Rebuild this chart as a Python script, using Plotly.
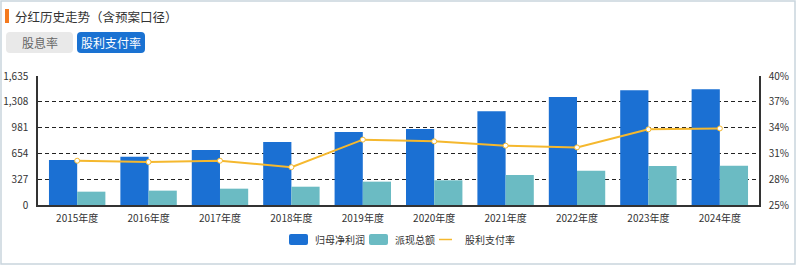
import plotly.graph_objects as go

years = ["2015年度", "2016年度", "2017年度", "2018年度", "2019年度",
         "2020年度", "2021年度", "2022年度", "2023年度", "2024年度"]
net_profit = [570, 612, 697, 798, 925, 963, 1187, 1369, 1453, 1466]
dividend_total = [169, 182, 207, 232, 296, 313, 380, 435, 494, 498]
payout_ratio = [30.15, 30.0, 30.15, 29.4, 32.6, 32.4, 31.9, 31.7, 33.8, 33.9]
left_ticks = [0, 327, 654, 981, 1308, 1635]
left_labels = ["0", "327", "654", "981", "1,308", "1,635"]
right_ticks = [25, 28, 31, 34, 37, 40]
right_labels = ["25%", "28%", "31%", "34%", "37%", "40%"]

W, H = 800, 268
L, R, T, B = 38, 759, 76, 205

def X(px):
    return (px - L) / (R - L)

def Y(py):
    return (B - py) / (B - T)

def rrect(x0, y0, x1, y1, r):
    pts = [
        ("M", [(x0 + r, y0)]),
        ("L", [(x1 - r, y0)]),
        ("Q", [(x1, y0), (x1, y0 + r)]),
        ("L", [(x1, y1 - r)]),
        ("Q", [(x1, y1), (x1 - r, y1)]),
        ("L", [(x0 + r, y1)]),
        ("Q", [(x0, y1), (x0, y1 - r)]),
        ("L", [(x0, y0 + r)]),
        ("Q", [(x0, y0), (x0 + r, y0)]),
    ]
    s = ""
    for cmd, ps in pts:
        s += cmd + " " + " ".join(f"{X(a):.5f},{Y(b):.5f}" for a, b in ps) + " "
    return s + "Z"

BLUE = "#1b70d3"
TEAL = "#6bbbc3"
YEL = "#f5b82e"
FONT = "Noto Sans CJK SC"
TXT = "#333333"

fig = go.Figure()
fig.add_trace(go.Bar(x=years, y=net_profit, name="归母净利润",
                     marker=dict(color=BLUE, line=dict(width=0)), offsetgroup="a"))
fig.add_trace(go.Bar(x=years, y=dividend_total, name="派现总额",
                     marker=dict(color=TEAL, line=dict(width=0)), offsetgroup="b"))
fig.add_trace(go.Scatter(x=years, y=payout_ratio, name="股利支付率", yaxis="y2",
                         mode="lines+markers",
                         line=dict(color=YEL, width=2),
                         marker=dict(size=5, color="white", line=dict(color=YEL, width=1))))

shapes = []
# frame
shapes.append(dict(type="rect", xref="paper", yref="paper",
                   x0=X(1), x1=X(795), y0=Y(264), y1=Y(1),
                   line=dict(color="#c9d5dd", width=1.5), fillcolor="rgba(0,0,0,0)", layer="below"))
# title marker
shapes.append(dict(type="rect", xref="paper", yref="paper",
                   x0=X(5), x1=X(9), y0=Y(23), y1=Y(9),
                   line=dict(width=0), fillcolor="#f47a1f"))
# buttons
shapes.append(dict(type="path", xref="paper", yref="paper", path=rrect(6, 32, 73, 53, 4),
                   line=dict(width=0), fillcolor="#e9e9e9"))
shapes.append(dict(type="path", xref="paper", yref="paper", path=rrect(77, 32, 145, 53, 4),
                   line=dict(width=0), fillcolor="#1a72d2"))
# legend symbols
shapes.append(dict(type="path", xref="paper", yref="paper", path=rrect(289, 234, 308, 245, 2),
                   line=dict(width=0), fillcolor=BLUE))
shapes.append(dict(type="path", xref="paper", yref="paper", path=rrect(369, 234, 388, 245, 2),
                   line=dict(width=0), fillcolor=TEAL))
shapes.append(dict(type="line", xref="paper", yref="paper", x0=X(439), x1=X(452), y0=Y(239.5), y1=Y(239.5),
                   line=dict(color=YEL, width=1.5)))

ann = []
ann.append(dict(text="分红历史走势（含预案口径）", xref="paper", yref="paper", x=X(13), y=Y(16.5),
                xanchor="left", yanchor="middle", showarrow=False,
                font=dict(family=FONT, size=12.5, color=TXT)))
ann.append(dict(text="股息率", xref="paper", yref="paper", x=X(39.5), y=Y(42.5),
                xanchor="center", yanchor="middle", showarrow=False,
                font=dict(family=FONT, size=12, color="#666666")))
ann.append(dict(text="股利支付率", xref="paper", yref="paper", x=X(111), y=Y(42.5),
                xanchor="center", yanchor="middle", showarrow=False,
                font=dict(family=FONT, size=12, color="#ffffff")))
for tx, label in [(313, "归母净利润"), (393, "派现总额"), (463, "股利支付率")]:
    ann.append(dict(text=label, xref="paper", yref="paper", x=X(tx), y=Y(239.5),
                    xanchor="left", yanchor="middle", showarrow=False,
                    font=dict(family=FONT, size=10, color=TXT)))

fig.update_layout(
    width=W, height=H,
    margin=dict(l=L, r=W - R, t=T, b=H - B, pad=0, autoexpand=False),
    paper_bgcolor="white", plot_bgcolor="white",
    showlegend=False,
    barmode="group", bargap=0.21, bargroupgap=0,
    font=dict(family=FONT, size=10, color=TXT),
    xaxis=dict(showline=True, linecolor=TXT, linewidth=1.5, showgrid=False,
               automargin=False,
               ticks="", tickfont=dict(size=10, color=TXT), ticklabelstandoff=3,
               fixedrange=True),
    yaxis=dict(range=[0, 1635], tickmode="array", tickvals=left_ticks, ticktext=left_labels,
               automargin=False,
               showline=True, linecolor=TXT, linewidth=1.5,
               showgrid=True, gridcolor="#222222", gridwidth=1.4, griddash="4px,3px",
               zeroline=False, ticks="", ticklabelstandoff=6,
               tickfont=dict(size=10, color=TXT)),
    yaxis2=dict(range=[25, 40], tickmode="array", tickvals=right_ticks, ticktext=right_labels,
                automargin=False,
                overlaying="y", side="right", showgrid=False, zeroline=False,
                showline=True, linecolor=TXT, linewidth=1.5,
                ticks="", ticklabelstandoff=6, tickfont=dict(size=10, color=TXT)),
    shapes=shapes, annotations=ann,
)

fig.write_html("out.html")
